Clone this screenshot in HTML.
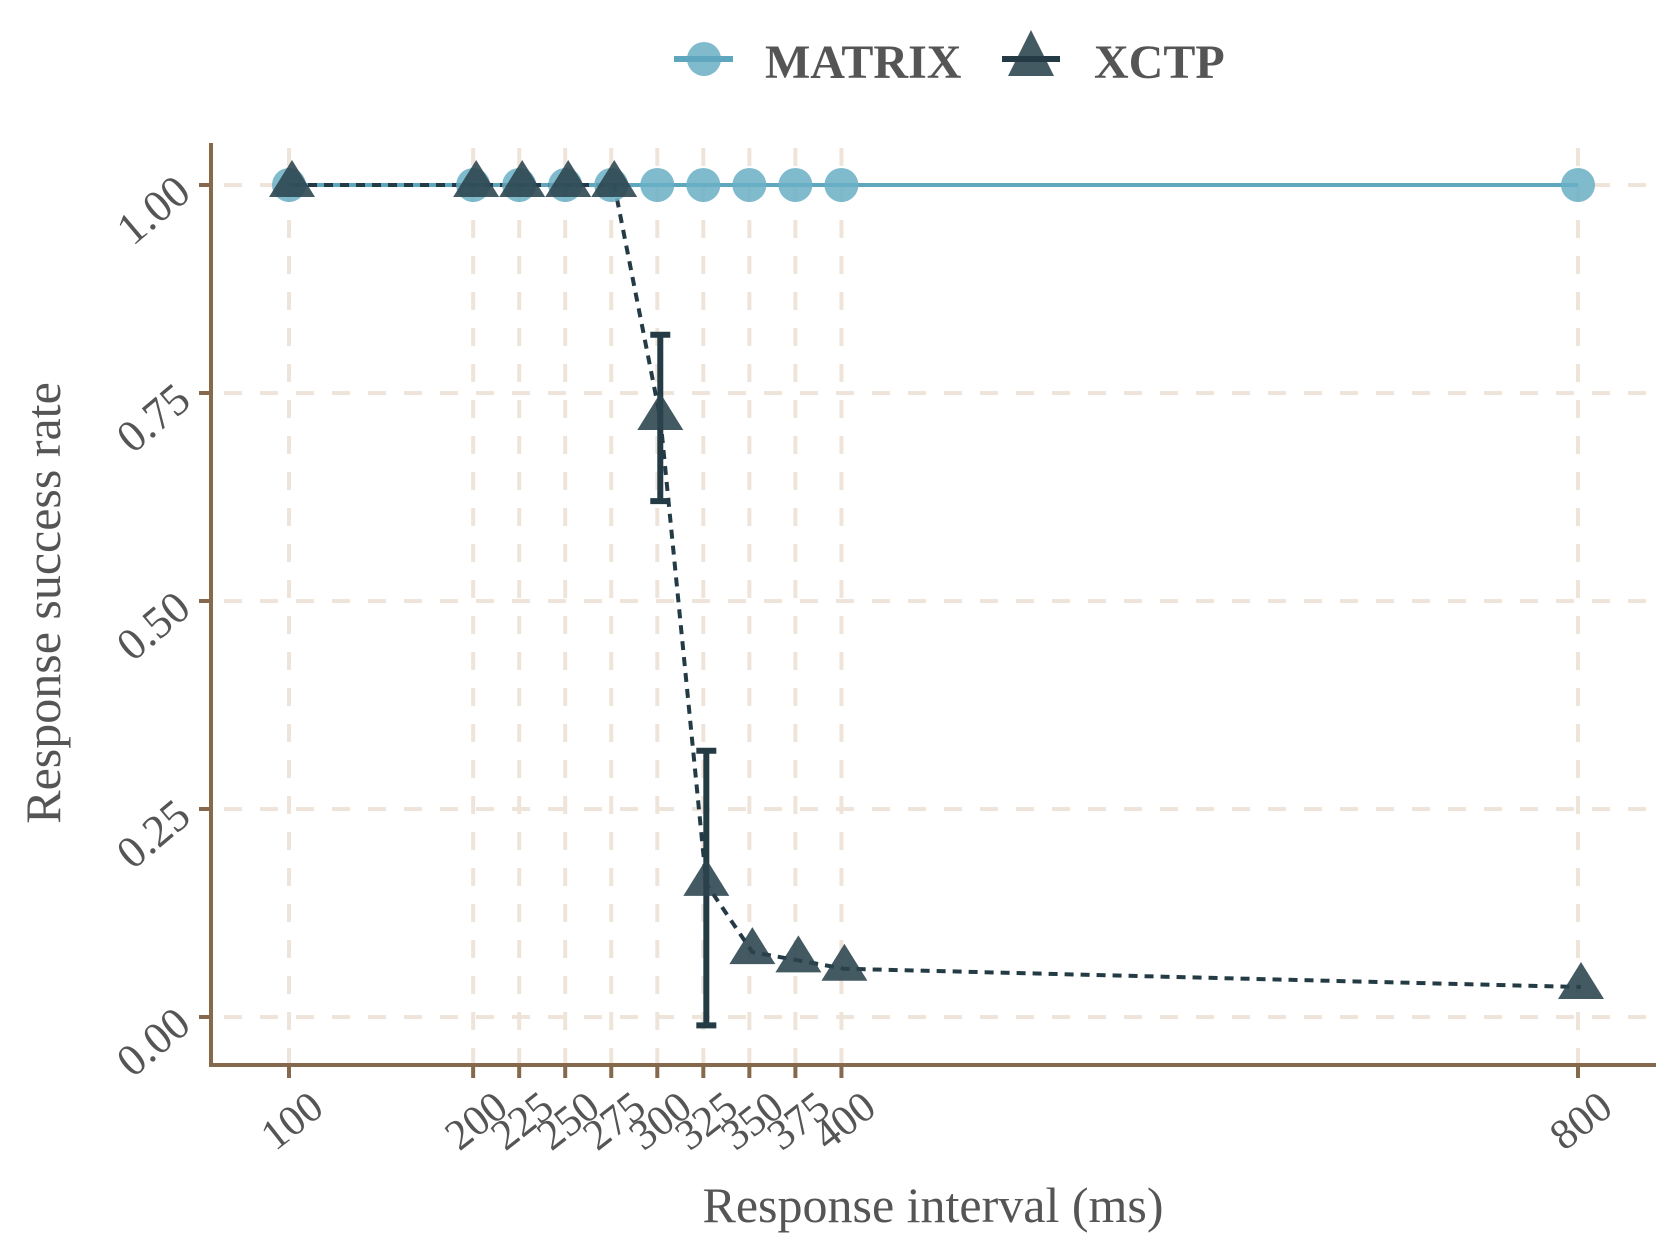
<!DOCTYPE html>
<html><head><meta charset="utf-8"><style>
html,body{margin:0;padding:0;background:#fff}
svg{display:block;font-family:"Liberation Serif",serif}
</style></head><body>
<svg id="chart" width="1680" height="1259" viewBox="0 0 1680 1259" xmlns="http://www.w3.org/2000/svg">
<g id="grid"></g>
<g id="axes"></g>
<g id="series"></g>
<g>
 <g>
  <circle cx="704" cy="59" r="17" fill="#6aafc4" fill-opacity="0.85"/>
  <line x1="674" y1="59" x2="733" y2="59" stroke="#5ea7bf" stroke-width="6"/>
  <text x="765" y="78" font-size="48" font-weight="bold" fill="#555">MATRIX</text>
 </g>
 <g>
  <polygon points="1031,30 1008,76 1054,76" fill="#2a434d" fill-opacity="0.88"/>
  <line x1="1002" y1="59" x2="1060" y2="59" stroke="#243b45" stroke-width="6"/>
  <text x="1094" y="78" font-size="48" font-weight="bold" fill="#555">XCTP</text>
 </g>
</g>
<text x="933" y="1222" font-size="50" fill="#555" text-anchor="middle">Response interval (ms)</text>
<text transform="translate(60,603) rotate(-90)" font-size="50" fill="#555" text-anchor="middle">Response success rate</text>
</svg>
<script>
const xCategories = [100,200,225,250,275,300,325,350,375,400,800];
const matrixValues = [1,1,1,1,1,1,1,1,1,1,1];
const xctpValues = [1,1,1,1,1,0.72,0.16,0.078,0.068,0.058,0.036];
const xctpErrLow = [null,null,null,null,null,0.62,-0.01,null,null,null,null];
const xctpErrHigh = [null,null,null,null,null,0.82,0.32,null,null,null,null];
const yTicks = [0,0.25,0.5,0.75,1];
const yTickLabels = ["0.00","0.25","0.50","0.75","1.00"];

const NS="http://www.w3.org/2000/svg";
function xs(v){return 289+(v-100)*(1578-289)/700;}
function ys(v){return 1017-v*(1017-185);}
function mk(tag,attrs,parent){const e=document.createElementNS(NS,tag);for(const k in attrs)e.setAttribute(k,attrs[k]);parent.appendChild(e);return e;}
const grid=document.getElementById('grid'),axes=document.getElementById('axes'),series=document.getElementById('series');
const L=211,R=1656,T=143,B=1065;
yTicks.forEach((t,i)=>{
 const y=ys(t);
 const g=mk('line',{x1:L+13,x2:R,y1:y,y2:y,stroke:'#efe4da','stroke-width':4,'stroke-dasharray':'18 18'},grid);
 
 
 const tk=mk('line',{x1:L-12,x2:L,y1:y,y2:y,stroke:'#85694d','stroke-width':4},axes);
 
 
 const tx=mk('text',{transform:`translate(${L-18},${y+11}) rotate(-40)`,'font-size':45,fill:'#555','text-anchor':'end'},axes);
 tx.textContent=yTickLabels[i];
 
 
});
xCategories.forEach(c=>{
 const x=xs(c);
 const g=mk('line',{x1:x,x2:x,y1:T+5,y2:B,stroke:'#efe4da','stroke-width':4,'stroke-dasharray':'18 18'},grid);
 
 
 const tk=mk('line',{x1:x,x2:x,y1:B,y2:B+13,stroke:'#85694d','stroke-width':4},axes);
 
 
 const tx=mk('text',{transform:`translate(${x+37},${B+47}) rotate(-38)`,'font-size':43,fill:'#555','text-anchor':'end'},axes);
 tx.textContent=String(c);
 
 
});
const ax=mk('path',{d:`M${L},${T} V${B} H${R}`,fill:'none',stroke:'#85694d','stroke-width':4},axes);



const mPts=xCategories.map((c,i)=>xs(c)+','+ys(matrixValues[i])).join(' ');
const ml=mk('polyline',{points:mPts,fill:'none',stroke:'#5ea7bf','stroke-width':4},series);


const dx=3;
const xl=mk('polyline',{points:xCategories.map((c,i)=>(xs(c)+dx)+','+ys(xctpValues[i])).join(' '),fill:'none',stroke:'#243b45','stroke-width':4,'stroke-dasharray':'9 7'},series);


xCategories.forEach((c,i)=>{
 if(xctpErrLow[i]===null)return;
 const x=xs(c)+dx,y1=ys(xctpErrLow[i]),y2=ys(xctpErrHigh[i]);
 const e=mk('path',{d:`M${x-10},${y1} H${x+10} M${x},${y1} V${y2} M${x-10},${y2} H${x+10}`,stroke:'#243b45','stroke-width':6,fill:'none'},series);
 
 
});
xCategories.forEach((c,i)=>{
 const x=xs(c),y=ys(matrixValues[i]);
 const p=mk('circle',{cx:x,cy:y,r:17,fill:'#6aafc4','fill-opacity':0.85},series);
 
 
});
xCategories.forEach((c,i)=>{
 const x=xs(c)+dx,y=ys(xctpValues[i]);
 const p=mk('polygon',{points:`${x},${y-25} ${x-23},${y+12} ${x+23},${y+12}`,fill:'#2a434d','fill-opacity':0.88},series);
 
 
});
</script>
</body></html>
